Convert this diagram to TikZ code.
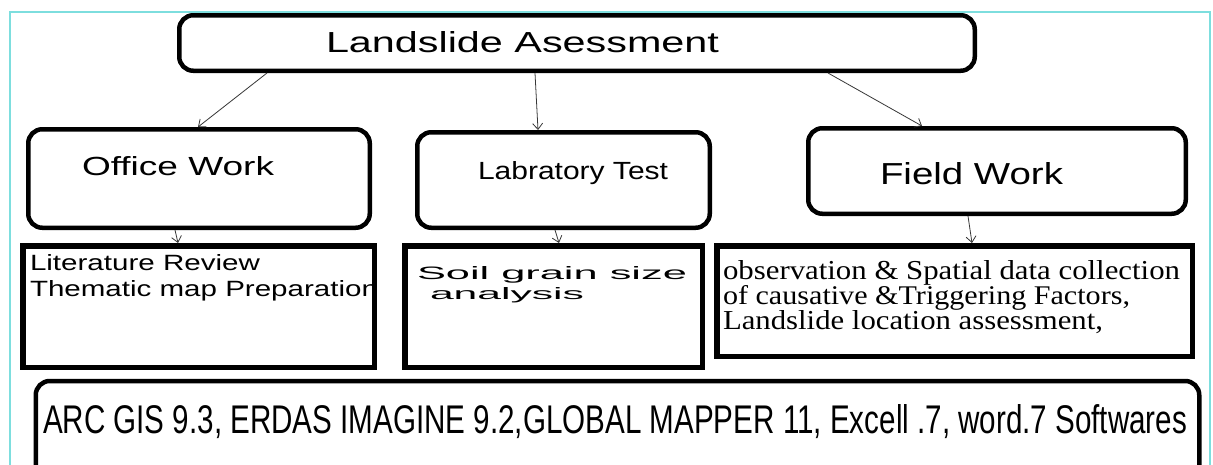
\documentclass[tikz,border=0pt]{standalone}
\usepackage{fontspec}
\setmainfont{Liberation Sans}
\newfontfamily\serifface{Liberation Serif}
\usepackage{graphicx}
\usetikzlibrary{arrows.meta}
\definecolor{frameCyan}{RGB}{125,222,222}
\definecolor{arrowGray}{RGB}{55,55,55}
% fit a line of text to a given width and height (in pt)
\newcommand\fitto[3]{\resizebox{#1pt}{#2pt}{#3}}

\begin{document}
\begin{tikzpicture}[x=1pt,y=-1pt,
  rbox/.style={draw=black, line width=4.5pt, rounded corners=14pt, inner sep=0pt},
  sbox/.style={draw=black, line width=5.5pt, inner sep=0pt},
  link/.style={draw=arrowGray, line width=0.8pt, -{Straight Barb[length=6pt,width=10pt]}},
  lbl/.style={anchor=base west, inner sep=0pt, outer sep=0pt, font=\fontsize{20}{24}\selectfont},
]
\clip (0,0) rectangle (1213,464);
\fill[white] (0,0) rectangle (1213,464);

% outer frame
\draw[frameCyan, line width=1.5pt] (10,470) |- (1210,12) -- (1210,470);

% rounded boxes
\node[rbox, minimum width=795.5pt, minimum height=55.5pt] (top) at (577,43) {};
\node[rbox, minimum width=341.5pt, minimum height=98.5pt] (office) at (199,178.5) {};
\node[rbox, minimum width=292.5pt, minimum height=95.5pt] (lab) at (563.5,180) {};
\node[rbox, minimum width=377.5pt, minimum height=85.5pt] (field) at (997,171) {};
\node[rbox, minimum width=1163.5pt, minimum height=118pt] (soft) at (617.5,440) {};

% titles
\node[lbl] (topText) at (326,52) {\fitto{393}{21}{Landslide Asessment}};
\node[lbl] (officeText) at (82,175) {\fitto{192}{19}{Office Work}};
\node[lbl] (labText) at (478,179) {\fitto{190}{18}{Labratory Test}};
\node[lbl] (fieldText) at (880,184) {\fitto{183}{22}{Field Work}};

% office work details, clipped at the box edge
\begin{scope}
  \clip (20,243) rectangle (377,370);
  \node[lbl] (litA) at (30,270) {\fitto{230}{16}{Literature Review}};
  \node[lbl] (litB) at (30,296) {\fitto{348}{16}{Thematic map Preparation}};
\end{scope}
\node[sbox, minimum width=351.5pt, minimum height=121.5pt] (lit) at (198.5,306.5) {};

% laboratory details
\node[sbox, minimum width=297.5pt, minimum height=121.5pt] (soil) at (553.5,306.5) {};
\node[lbl] (soilA) at (417,279) {\fitto{270}{13}{Soil grain size}};
\node[lbl] (soilB) at (430,299) {\fitto{154}{12}{analysis}};

% field work details
\node[sbox, minimum width=475.5pt, minimum height=110.5pt] (obs) at (954.5,301) {};
\node[lbl] (obsA) at (723,279) {\fitto{457}{19}{\serifface observation \& Spatial data collection}};
\node[lbl] (obsB) at (723,304) {\fitto{407}{19}{\serifface of causative \&Triggering Factors,}};
\node[lbl] (obsC) at (723,329) {\fitto{380}{19}{\serifface Landslide location assessment,}};

% software line
\node[lbl] (softText) at (43,433) {\fitto{1144}{29}{ARC GIS 9.3, ERDAS IMAGINE 9.2,GLOBAL MAPPER 11, Excell .7, word.7 Softwares}};

% connectors
\draw[link] ([xshift=90pt]top.south west) -- ([xshift=172pt]office.north west);
\draw[link] ([xshift=358pt]top.south west) -- ([xshift=123pt]lab.north west);
\draw[link] ([xshift=651pt]top.south west) -- ([xshift=116pt]field.north west);
\draw[link] ([xshift=149pt]office.south west) -- ([xshift=158pt]lit.north west);
\draw[link] ([xshift=140pt]lab.south west) -- ([xshift=157pt]soil.north west);
\draw[link] ([xshift=162pt]field.south west) -- ([xshift=258pt]obs.north west);
\end{tikzpicture}
\end{document}
